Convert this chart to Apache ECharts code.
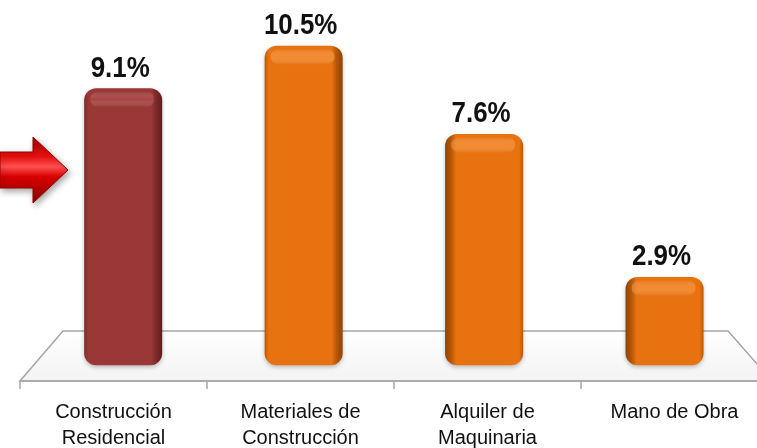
<!DOCTYPE html>
<html><head><meta charset="utf-8">
<script src="https://cdn.jsdelivr.net/npm/echarts@6/dist/echarts.min.js"></script>
<style>html,body{margin:0;padding:0;background:#fff}#c{width:757px;height:448px}</style>
</head><body><div id="c"></div>
<script>
const categories = ['Construcción\nResidencial', 'Materiales de\nConstrucción', 'Alquiler de\nMaquinaria', 'Mano de Obra'];
const values = [9.1, 10.5, 7.6, 2.9];
const highlightIndex = 0;

const FONT = '"Liberation Sans", Arial, sans-serif';
const chart = echarts.init(document.getElementById('c'));

function grad(dir, stops){
  return dir === 'h'
    ? new echarts.graphic.LinearGradient(0,0,1,0,stops)
    : new echarts.graphic.LinearGradient(0,0,0,1,stops);
}
function bodyFill(red, darkRight){
  const base = red ? '#9a3737' : '#e8720f';
  const dark = red ? '#621c1c' : '#8f4204';
  const mid = red ? '#7e2a2a' : '#b85806';
  if (darkRight) return grad('h', [
    {offset:0,color:mid},{offset:0.05,color:base},{offset:0.86,color:base},
    {offset:0.92,color:mid},{offset:1,color:dark}]);
  return grad('h', [
    {offset:0,color:dark},{offset:0.08,color:mid},{offset:0.14,color:base},
    {offset:0.95,color:base},{offset:1,color:mid}]);
}

function renderItem(params, api){
  const i = api.value(0), v = api.value(1);
  const top = api.coord([i, v]);
  const base = api.coord([i, 0]);
  const cx = 390 + (top[0] - 390) * 0.965;
  const w = 78, x = cx - w / 2, h = base[1] - top[1];
  const red = i === highlightIndex;
  const darkRight = cx < 390;
  const hi = red ? 'rgba(190,80,80,0.45)' : 'rgba(255,160,70,0.5)';
  return {type:'group', children:[
    {type:'rect', shape:{x:x, y:top[1], width:w, height:h, r:12},
     style:{fill: bodyFill(red, darkRight), shadowBlur:4, shadowColor:'rgba(0,0,0,0.25)', shadowOffsetY:2}},
    {type:'rect', shape:{x:x+6, y:top[1]+3, width:w-14, height:16, r:8},
     style:{fill: grad('v', [{offset:0,color:'rgba(255,255,255,0)'},{offset:0.5,color:hi},{offset:1,color:'rgba(255,255,255,0)'}])}},
    {type:'text', x: cx - 3, y: top[1] - 5, scaleX: 1.08, scaleY: 1.24,
     style:{text: v.toFixed(1) + '%', x: 0, y: 0,
      textAlign:'center', textVerticalAlign:'bottom', font:'bold 24px ' + FONT, fill:'#111'}}
  ]};
}

chart.setOption({
  animation:false,
  backgroundColor:'#fff',
  grid:{left:20, top:0, width:748, height:381, outerBoundsMode:'none', containLabel:false},
  xAxis:{type:'category', data:categories,
    axisLine:{onZero:false, lineStyle:{color:'#a6a6a6', width:1.5}},
    axisTick:{show:true, length:8, lineStyle:{color:'#a6a6a6', width:1.5}},
    axisLabel:{color:'#111', fontSize:20, fontFamily:FONT, lineHeight:26, margin:18}},
  yAxis:{type:'value', min:-0.52, max:12, show:false, splitLine:{show:false}},
  graphic:[
    {type:'polygon', z:0, shape:{points:[[20,381],[63,331],[728,331],[772,381]]},
     style:{fill: grad('v',[{offset:0,color:'#ffffff'},{offset:1,color:'#f3f3f3'}]), stroke:'#a6a6a6', lineWidth:1.5}},
    {type:'polygon', z:5, shape:{points:[[0,152],[33,152],[33,137],[68,170],[33,203],[33,188],[0,188]]},
     style:{fill: grad('v',[{offset:0,color:'#a80000'},{offset:0.3,color:'#e81010'},{offset:0.45,color:'#ff5050'},{offset:0.6,color:'#d80000'},{offset:1,color:'#8a0000'}]),
       stroke:'#900000', lineWidth:1, shadowBlur:6, shadowColor:'rgba(0,0,0,0.35)', shadowOffsetX:2, shadowOffsetY:3}}
  ],
  series:[{type:'custom', renderItem:renderItem, z:10,
    data: values.map((v,i)=>[i,v])}]
});
</script></body></html>
